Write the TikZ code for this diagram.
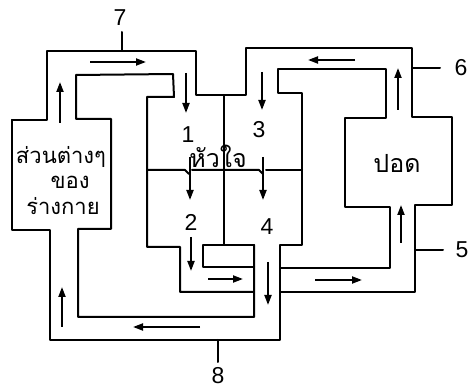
\documentclass[tikz,border=0pt]{standalone}
\usepackage{fontspec}
\setmainfont{Liberation Sans}
\newfontfamily\thaifont[Script=Thai]{Loma}
\usetikzlibrary{arrows.meta}
\begin{document}
\begin{tikzpicture}[x=1pt,y=-1pt,
  wall/.style={line width=2pt, line join=round, line cap=round},
  flow/.style={line width=1.9pt, -{Triangle[length=10pt,width=7pt]}},
  num/.style={font=\fontsize{23}{23}\selectfont, inner sep=0pt},
  thai/.style={font=\thaifont\fontsize{22}{24}\selectfont, inner sep=0pt},
  thaibig/.style={font=\thaifont\fontsize{25}{27}\selectfont, inner sep=0pt}]
\useasboundingbox (0,0) rectangle (469,390);
\fill[white] (0,0) rectangle (469,390);

% outer walls
\draw[wall] (12,120) -- (12,230) -- (50,230) -- (50,340) -- (280,340) -- (280,245)
  -- (302,245) -- (302,93) -- (278,93) -- (278,69) -- (386,69) -- (386,118)
  -- (345,118) -- (345,207) -- (390,207) -- (390,268) -- (280,268);
\draw[wall] (12,120) -- (47,120) -- (47,51) -- (196,51) -- (196,95) -- (246,95)
  -- (246,48) -- (412,48) -- (412,117) -- (452,117) -- (452,205) -- (415,205)
  -- (415,292) -- (280,292);
% inner walls
\draw[wall] (254,245) -- (254,317) -- (78,317) -- (78,229) -- (111,229) -- (111,119)
  -- (76,119) -- (76,75) -- (173,74) -- (174,97) -- (147,97) -- (147,247)
  -- (180,247) -- (180,292) -- (254,292);
% septum and partition block
\draw[wall] (224,95) -- (224,245);
\draw[wall] (254,245) -- (203,245) -- (203,267) -- (254,267);
% valves line
\draw[wall] (147,170) -- (185,170) -- (189,174);
\draw[wall] (192,170) -- (259,170) -- (263,174);
\draw[wall] (266,170) -- (302,170);

% flow arrows
\draw[flow] (90,62) -- (146,62);
\draw[flow] (60,123) -- (60,82);
\draw[flow] (62,327) -- (62,287);
\draw[flow] (200,327) -- (133,327);
\draw[flow] (186,73) -- (186,113);
\draw[flow] (190,157) -- (190,200);
\draw[flow] (191,237) -- (191,271);
\draw[flow] (208,279) -- (243,279);
\draw[flow] (262,72) -- (262,110);
\draw[flow] (263,157) -- (263,200);
\draw[flow] (268,262) -- (268,305);
\draw[flow] (315,280) -- (362,280);
\draw[flow] (401,243) -- (401,205);
\draw[flow] (398,110) -- (398,68);
\draw[flow] (355,60) -- (308,60);

% label ticks
\draw[wall] (122,32) -- (122,51);
\draw[wall] (218,340) -- (218,362);
\draw[wall] (412,68) -- (440,68);
\draw[wall] (415,250) -- (443,250);

% labels
\node[num] (l7) at (120,18) {7};
\node[num] (l8) at (218,376) {8};
\node[num] (l6) at (461,68) {6};
\node[num] (l5) at (462,250) {5};
\node[num] (c1) at (188,135) {1};
\node[num] (c2) at (191,222) {2};
\node[num] (c3) at (259,130) {3};
\node[num] (c4) at (267,227) {4};

\node[thai] (t1) at (61,157) {ส่วนต่างๆ};
\node[thai] (t2) at (70,182) {ของ};
\node[thai] (t3) at (63,206) {ร่างกาย};
\node[thaibig] (t4) at (397,163) {ปอด};
\node[thaibig] (t5) at (218,156) {หัวใจ};
\end{tikzpicture}
\end{document}
